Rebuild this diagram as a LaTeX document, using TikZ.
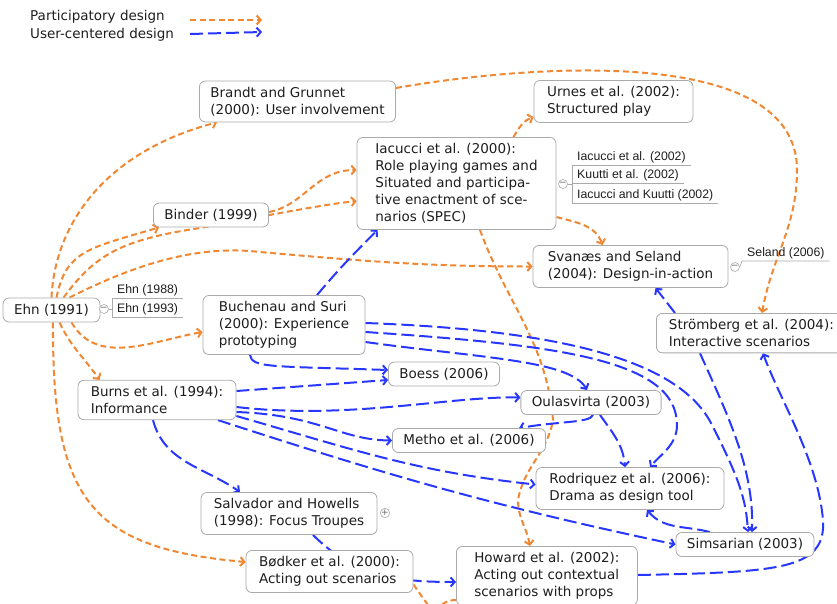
\documentclass[tikz,border=0pt]{standalone}
\usepackage{fontspec}
\setmainfont{DejaVu Sans}
\newfontfamily\notefont{Liberation Sans}
\usetikzlibrary{arrows.meta,backgrounds}
\definecolor{pdorange}{RGB}{240,135,50}
\definecolor{ucdblue}{RGB}{40,55,255}
\definecolor{boxgray}{RGB}{170,170,170}
\definecolor{inkgray}{RGB}{30,30,30}

\begin{document}
\begin{tikzpicture}[x=1pt,y=-1pt,
	paper/.style={draw=boxgray, fill=white, rounded corners=6pt, line width=0.8pt, align=left, inner xsep=11pt, inner ysep=6pt, text=inkgray, font=\fontsize{13.5}{17}\selectfont},
	key/.style={anchor=west, inner sep=0pt, text=inkgray, font=\fontsize{13.5}{17}\selectfont},
	note/.style={inner xsep=5pt, inner ysep=1.5pt, text=inkgray, font=\notefont\fontsize{12.3}{14}\selectfont},
	fold/.style={circle, draw=boxgray, fill=white, line width=0.6pt, inner sep=0pt, minimum size=9pt, text=black!60, font=\fontsize{9}{9}\selectfont},
	noteline/.style={draw=boxgray, line width=0.6pt},
	pd/.style={pdorange, line width=2pt, dash pattern=on 6pt off 3.5pt, -{Straight Barb[length=4pt,width=9pt]}},
	ucd/.style={ucdblue, line width=2pt, dash pattern=on 13pt off 5pt, -{Straight Barb[length=4pt,width=9pt]}}]

		\useasboundingbox (0,0) rectangle (837,603);
		\clip (0,0) rectangle (837,603);

		\node (pdkey) at (30,17) [key] {Participatory design};
		\node (ucdkey) at (30,35) [key] {User-centered design};
		\coordinate (pdfrom) at (190,20);
		\coordinate (pdto) at (262,20);
		\coordinate (ucdfrom) at (190,34);
		\coordinate (ucdto) at (262,32);
		\draw [pd] (pdfrom) -- (pdto);
		\draw [ucd] (ucdfrom) -- (ucdto);

		\node (brandt) at (297.5,101.5) [paper, minimum width=195pt] {Brandt and Grunnet\\(2000): User involvement};
		\node (urnes) at (613.5,101.5) [paper, minimum width=159pt] {Urnes et al. (2002):\\Structured play};
		\node (iacucci) at (456.5,183.5) [paper, minimum width=199pt] {Iacucci et al. (2000):\\Role playing games and\\Situated and participa-\\tive enactment of sce-\\narios (SPEC)};
		\node (binder) at (211,215) [paper, minimum width=108pt] {Binder (1999)};
		\node (svanaes) at (630.5,266.5) [paper, minimum width=195pt] {Svanæs and Seland\\(2004): Design-in-action};
		\node (ehn) at (51.5,310) [paper, minimum width=91pt] {Ehn (1991)};
		\node (buchenau) at (284,325) [paper, minimum width=162pt] {Buchenau and Suri\\(2000): Experience\\prototyping};
		\node (stromberg) at (656,313) [paper, anchor=north west, minimum width=190pt] {Strömberg et al. (2004):\\Interactive scenarios};
		\node (boess) at (444,374) [paper, minimum width=104pt] {Boess (2006)};
		\node (burns) at (157,400) [paper, minimum width=158pt] {Burns et al. (1994):\\Informance};
		\node (oulas) at (591,402.5) [paper, minimum width=134pt] {Oulasvirta (2003)};
		\node (metho) at (469,440.5) [paper, minimum width=146pt] {Metho et al. (2006)};
		\node (rodri) at (630,488.5) [paper, minimum width=188pt] {Rodriquez et al. (2006):\\Drama as design tool};
		\node (salvador) at (289,513.5) [paper, minimum width=176pt] {Salvador and Howells\\(1998): Focus Troupes};
		\node (simsarian) at (745,544.5) [paper, minimum width=132pt] {Simsarian (2003)};
		\node (bodker) at (329.5,571.5) [paper, minimum width=167pt] {Bødker et al. (2000):\\Acting out scenarios};
		\node (howard) at (456,546) [paper, anchor=north west, minimum width=181pt] {Howard et al. (2002):\\Acting out contextual\\scenarios with props};

		\node (ehnfold) at (104,309) [fold] {−};
		\node (ehnnote1) at (112,298) [note, anchor=south west] {Ehn (1988)};
		\node (ehnnote2) at (112,317) [note, anchor=south west] {Ehn (1993)};
		\draw [noteline] (ehnnote1.south east) -- (ehnnote1.south west) -- (ehnnote2.south west) -- (ehnnote2.south east);
		\draw [noteline] (ehnfold.east) -- (ehnfold -| ehnnote1.south west);

		\node (iacfold) at (563,184) [fold] {−};
		\node (iacnote1) at (572,165) [note, anchor=south west] {Iacucci et al. (2002)};
		\node (iacnote2) at (572,183) [note, anchor=south west] {Kuutti et al. (2002)};
		\node (iacnote3) at (572,203) [note, anchor=south west] {Iacucci and Kuutti (2002)};
		\draw [noteline] (iacnote1.south east) -- (iacnote1.south west) -- (iacnote3.south west) -- (iacnote3.south east);
		\draw [noteline] (iacnote2.south west) -- (iacnote2.south east);
		\draw [noteline] (iacfold.east) -- (iacfold -| iacnote2.south west);

		\node (svfold) at (735,267) [fold] {−};
		\node (svnote) at (742,261) [note, anchor=south west] {Seland (2006)};
		\draw [noteline] (svfold.east) -- (svnote.south west) -- (svnote.south east);

		\node (salfold) at (385,513) [fold] {+};

		\coordinate (offbodker) at (433,612);
		\coordinate (offhoward) at (436,612);

		\begin{scope}[on background layer]
		\clip (0,0) rectangle (837,603);
		\draw [pd] (ehn.north) .. controls (55,220) and (110,150) .. ([xshift=18pt]brandt.south west);
		\draw [pd] ([xshift=5pt]ehn.north) .. controls (66,250) and (90,248) .. ([xshift=6pt]binder.south west);
		\draw [pd] ([xshift=12pt]ehn.north) .. controls (95,255) and (120,240) .. (200,228) .. controls (270,215) and (320,205) .. ([yshift=-17.5pt]iacucci.west);
		\draw [pd] ([yshift=3pt]binder.east) .. controls (305,205) and (315,170) .. ([yshift=13.5pt]iacucci.west);
		\draw [pd] ([xshift=18pt]ehn.north) .. controls (140,262) and (200,245) .. (260,252) to[out=-5,in=180] (svanaes.west);
		\draw [pd] ([xshift=20pt]ehn.south) to[out=-60,in=190] ([yshift=-7pt]buchenau.west);
		\draw [pd] ([xshift=8pt]ehn.south) to[out=-65,in=125] ([xshift=22pt]burns.north west);
		\draw [pd] ([xshift=1.5pt]ehn.south) .. controls (52,500) and (90,548) .. ([yshift=9.5pt]bodker.west);
		\draw [pd] ([yshift=13.5pt]brandt.east) .. controls (521,66) and (797,42) .. (797,170) to[out=-90,in=80] ([xshift=106pt]stromberg.north west);
		\draw [pd] ([xshift=57pt]iacucci.north) to[out=60,in=200] ([yshift=-15.5pt]urnes.west);
		\draw [pd] ([yshift=-33.5pt]iacucci.east) to[out=-15,in=110] ([xshift=70pt]svanaes.north west);
		\draw [pd] ([xshift=23.5pt]iacucci.south) to[out=-70,in=95] (553,420) to[out=-100,in=80] (518,500) to[out=-90,in=100] ([xshift=74pt]howard.north west);
		\draw [pd, -] ([yshift=-13pt]bodker.east) -- (offbodker);
		\draw [pd, -] (offhoward) to[out=60,in=180] ([yshift=-54pt]howard.north west);

		\draw [ucd] ([xshift=33pt]buchenau.north) to[out=50,in=225] ([xshift=21pt]iacucci.south west);
		\draw [ucd] ([xshift=-34pt]buchenau.south) .. controls (252,368) and (270,366) .. ([yshift=4pt]boess.west);
		\draw [ucd] ([yshift=9pt]burns.east) -- ([yshift=-6pt]boess.west);
		\draw [ucd] ([yshift=-17pt]buchenau.east) .. controls (480,358) and (570,360) .. ([xshift=-4pt]oulas.north);
		\draw [ucd] ([yshift=-7pt]buchenau.east) .. controls (560,345) and (677,360) .. (677,425) .. controls (677,445) and (660,455) .. ([xshift=20pt]rodri.north);
		\draw [ucd] ([yshift=2pt]buchenau.east) .. controls (560,330) and (680,360) .. (712,425) .. controls (740,480) and (746,500) .. ([xshift=3pt]simsarian.north);
		\draw [ucd] ([xshift=44pt]stromberg.south west) .. controls (730,420) and (754,470) .. ([xshift=7pt]simsarian.north);
		\draw [ucd] ([xshift=19pt]stromberg.north west) -- ([xshift=25pt]svanaes.south);
		\draw [ucd] ([yshift=-7pt]burns.east) .. controls (350,420) and (450,396) .. ([yshift=5pt]oulas.west);
		\draw [ucd] ([yshift=-12pt]burns.east) .. controls (320,415) and (340,440) .. (metho.west);
		\draw [ucd] ([yshift=-16pt]burns.east) to[out=-16,in=174] ([yshift=4pt]rodri.west);
		\draw [ucd] ([xshift=61pt]burns.south) to[out=-18,in=168] (simsarian.west);
		\draw [ucd] ([xshift=-4pt]burns.south) to[out=-75,in=145] ([xshift=-49pt]salvador.north);
		\draw [ucd] ([xshift=2pt]oulas.south) .. controls (590,423) and (560,421) .. ([xshift=50pt]metho.north);
		\draw [ucd] ([xshift=9pt]oulas.south) to[out=-55,in=95] ([xshift=-5pt]rodri.north);
		\draw [ucd] ([xshift=-35pt]simsarian.north) to[out=165,in=-50] ([xshift=17pt]rodri.south);
		\draw [ucd] ([yshift=-29pt]howard.north east) .. controls (780,572) and (826,570) .. (823,520) .. controls (818,460) and (780,400) .. ([xshift=107pt]stromberg.south west);
		\draw [ucd] ([xshift=24pt]salvador.south) to[out=-45,in=180] ([yshift=-36pt]howard.north west);
		\end{scope}

	\end{tikzpicture}
\end{document}
